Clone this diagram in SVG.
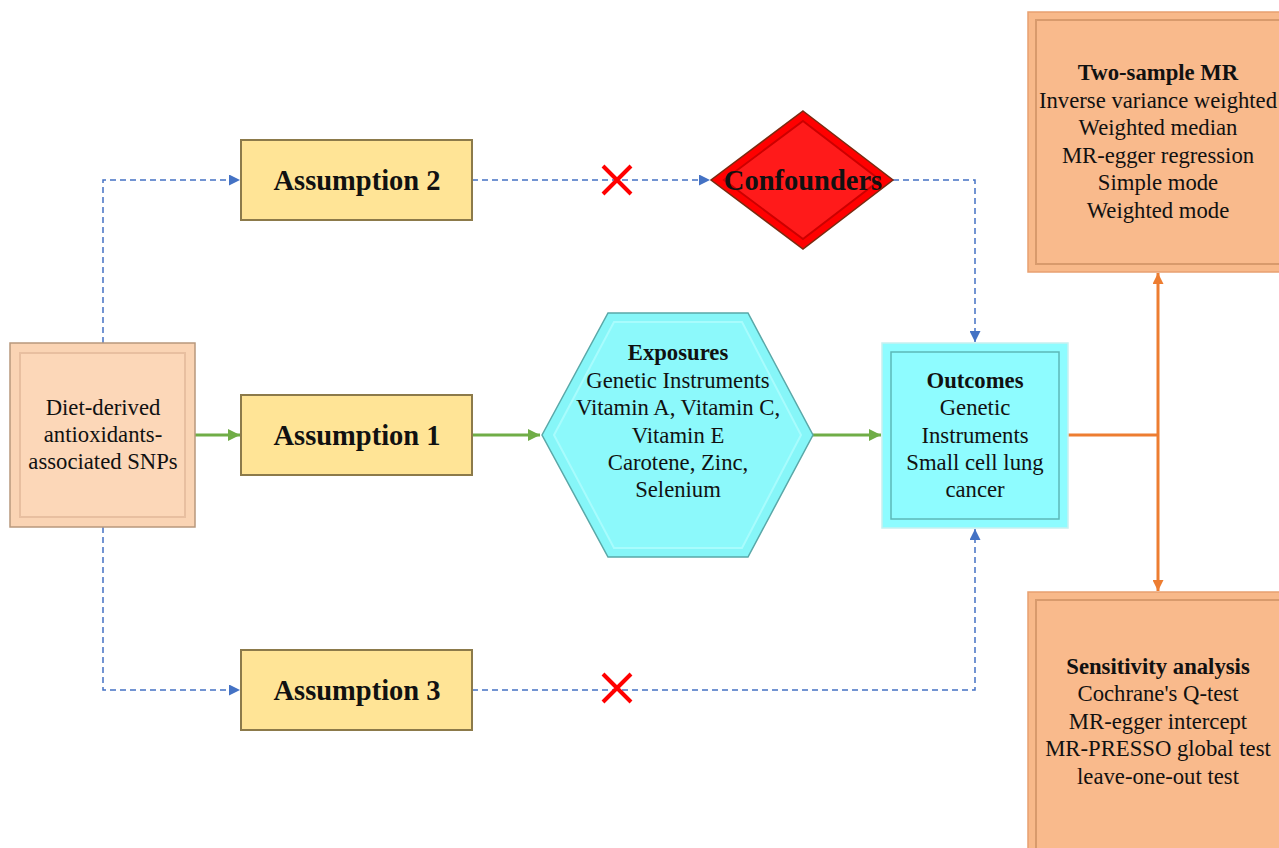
<svg xmlns="http://www.w3.org/2000/svg" width="1279" height="848" viewBox="0 0 1279 848">
<style>
.t{font-family:"Liberation Serif","Times New Roman",serif;fill:#111;text-anchor:middle}
.n{font-size:22.7px}
.b{font-weight:bold}
.h{font-size:28.5px;font-weight:bold}
.blue{stroke:#4472C4;stroke-width:1.5;stroke-dasharray:6,4;fill:none}
.green{stroke:#70AD47;stroke-width:3;fill:none}
.orange{stroke:#ED7D31;stroke-width:3;fill:none}
.x{stroke:#FF0000;stroke-width:4;fill:none}
</style>
<defs>
<marker id="ab" viewBox="0 0 10 10" refX="10" refY="5" markerWidth="11" markerHeight="11" markerUnits="userSpaceOnUse" orient="auto"><path d="M0,0L10,5L0,10z" fill="#4472C4"/></marker>
<marker id="ag" viewBox="0 0 10 10" refX="10" refY="5" markerWidth="12" markerHeight="12" markerUnits="userSpaceOnUse" orient="auto"><path d="M0,0L10,5L0,10z" fill="#70AD47"/></marker>
<marker id="ao" viewBox="0 0 10 10" refX="10" refY="5" markerWidth="11" markerHeight="11" markerUnits="userSpaceOnUse" orient="auto"><path d="M0,0L10,5L0,10z" fill="#ED7D31"/></marker>
</defs>
<g id="connectors">
<path class="blue" d="M103,343V180H240" marker-end="url(#ab)"/>
<path class="blue" d="M103,527V690H240" marker-end="url(#ab)"/>
<path class="blue" d="M472,180H710" marker-end="url(#ab)"/>
<path class="blue" d="M893,180H975V342" marker-end="url(#ab)"/>
<path class="blue" d="M472,690H975V529" marker-end="url(#ab)"/>
<path class="green" d="M195,435H240" marker-end="url(#ag)"/>
<path class="green" d="M472,435H540" marker-end="url(#ag)"/>
<path class="green" d="M813,435H881" marker-end="url(#ag)"/>
<path class="orange" d="M1068,435H1158"/>
<path class="orange" d="M1158,435V273" marker-end="url(#ao)"/>
<path class="orange" d="M1158,435V591" marker-end="url(#ao)"/>
<path class="x" d="M603,166L631,194M631,166L603,194"/>
<path class="x" d="M603,674L631,702M631,674L603,702"/>
</g>
<g id="snps">
<rect x="10" y="343" width="185" height="184" fill="#FAD4B4" stroke="#B8987C" stroke-width="1.5"/>
<rect x="20" y="353" width="165" height="164" fill="#FCD7B8" stroke="#E8BFA0" stroke-width="2"/>
<text class="t n" x="103" y="415">Diet-derived</text>
<text class="t n" x="103" y="442">antioxidants-</text>
<text class="t n" x="103" y="469">associated SNPs</text>
</g>
<g id="assumption2">
<rect x="241" y="140" width="231" height="80" fill="#FFE496" stroke="#8C7A4A" stroke-width="2"/>
<text class="t h" x="357" y="190">Assumption 2</text>
</g>
<g id="assumption1">
<rect x="241" y="395" width="231" height="80" fill="#FFE496" stroke="#8C7A4A" stroke-width="2"/>
<text class="t h" x="357" y="445">Assumption 1</text>
</g>
<g id="assumption3">
<rect x="241" y="650" width="231" height="80" fill="#FFE496" stroke="#8C7A4A" stroke-width="2"/>
<text class="t h" x="357" y="700">Assumption 3</text>
</g>
<g id="confounders">
<polygon points="803,111 893,180 803,249 711,180" fill="#FF0000" stroke="#7A2A10" stroke-width="1.5"/>
<polygon points="803,121 880,180 803,239 724,180" fill="#FF1A1A" stroke="#CC0000" stroke-width="2"/>
<text class="t h" x="803" y="190">Confounders</text>
</g>
<g id="exposures">
<polygon points="542,435 608,313 748,313 813,435 748,557 608,557" fill="#86F6F8" stroke="#5AA8A8" stroke-width="1.5"/>
<polygon points="554,435 614,322 742,322 801,435 742,548 614,548" fill="#8CF9FB" stroke="#A8FCFD" stroke-width="2"/>
<text class="t n b" x="678" y="360">Exposures</text>
<text class="t n" x="678" y="388">Genetic Instruments</text>
<text class="t n" x="678" y="415">Vitamin A, Vitamin C,</text>
<text class="t n" x="678" y="443">Vitamin E</text>
<text class="t n" x="678" y="470">Carotene, Zinc,</text>
<text class="t n" x="678" y="497">Selenium</text>
</g>
<g id="outcomes">
<rect x="882" y="343" width="186" height="185" fill="#8EFCFF" stroke="#C8F0F0" stroke-width="1.5"/>
<rect x="891" y="352" width="168" height="167" fill="#8EFCFF" stroke="#5CB8B8" stroke-width="1.5"/>
<text class="t n b" x="975" y="388">Outcomes</text>
<text class="t n" x="975" y="415">Genetic</text>
<text class="t n" x="975" y="443">Instruments</text>
<text class="t n" x="975" y="470">Small cell lung</text>
<text class="t n" x="975" y="497">cancer</text>
</g>
<g id="twosample">
<rect x="1028" y="12" width="256" height="260" fill="#F8B98A" stroke="#E8A070" stroke-width="1.5"/>
<rect x="1036" y="20" width="250" height="244" fill="#F9BA8C" stroke="#D89A6C" stroke-width="2"/>
<text class="t n b" x="1158" y="80">Two-sample MR</text>
<text class="t n" x="1158" y="108">Inverse variance weighted</text>
<text class="t n" x="1158" y="135">Weighted median</text>
<text class="t n" x="1158" y="163">MR-egger regression</text>
<text class="t n" x="1158" y="190">Simple mode</text>
<text class="t n" x="1158" y="218">Weighted mode</text>
</g>
<g id="sensitivity">
<rect x="1028" y="592" width="256" height="260" fill="#F8B98A" stroke="#E8A070" stroke-width="1.5"/>
<rect x="1036" y="600" width="250" height="252" fill="#F9BA8C" stroke="#D89A6C" stroke-width="2"/>
<text class="t n b" x="1158" y="674">Sensitivity analysis</text>
<text class="t n" x="1158" y="701">Cochrane's Q-test</text>
<text class="t n" x="1158" y="729">MR-egger intercept</text>
<text class="t n" x="1158" y="756">MR-PRESSO global test</text>
<text class="t n" x="1158" y="784">leave-one-out test</text>
</g>
</svg>
